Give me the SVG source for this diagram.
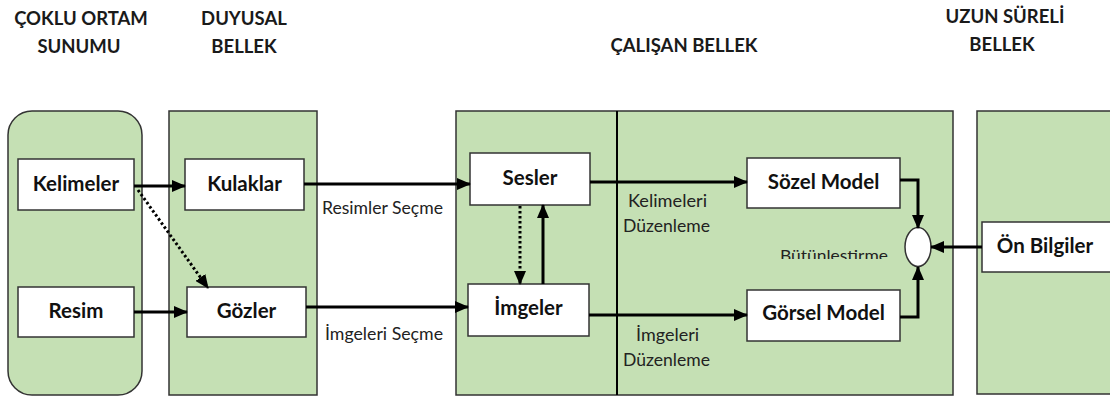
<svg xmlns="http://www.w3.org/2000/svg" width="1110" height="403" viewBox="0 0 1110 403">
<defs>
<style>
.title{font-family:Lato,"Liberation Sans",sans-serif;font-weight:bold;font-size:18.5px;fill:#1a1a1a;text-anchor:middle}
.panel{fill:#c5e0b4;stroke:#333;stroke-width:1.5}
.box{fill:#fff;stroke:#333;stroke-width:1.5}
.bl{font-family:Lato,"Liberation Sans",sans-serif;font-weight:bold;font-size:20.5px;fill:#111;text-anchor:middle}
.lbl{font-family:Lato,"Liberation Sans",sans-serif;font-size:16.5px;fill:#222}
.c{fill:none;stroke:#000;stroke-width:3;marker-end:url(#ah)}
.d{stroke-dasharray:2.5 2.5}
</style>
<marker id="ah" markerUnits="userSpaceOnUse" markerWidth="14" markerHeight="12" refX="13" refY="6" orient="auto">
<path d="M0,0 L14,6 L0,12 z" fill="#000"/>
</marker>
<clipPath id="cut"><rect x="760" y="230" width="140" height="29"/></clipPath>
</defs>
<g id="titles">
<text class="title" x="81" y="25">ÇOKLU ORTAM</text>
<text class="title" x="79" y="53">SUNUMU</text>
<text class="title" x="244" y="25">DUYUSAL</text>
<text class="title" x="244" y="53">BELLEK</text>
<text class="title" x="684" y="52">ÇALIŞAN BELLEK</text>
<text class="title" x="1005" y="23">UZUN SÜRELİ</text>
<text class="title" x="1002" y="51">BELLEK</text>
</g>
<g id="panel-coklu"><rect class="panel" x="8" y="111" width="134" height="284" rx="24"/></g>
<g id="panel-duyusal"><rect class="panel" x="169" y="111" width="148" height="284"/></g>
<g id="panel-calisan"><rect class="panel" x="456" y="111" width="497" height="284"/><line x1="617" y1="111" x2="617" y2="395" stroke="#000" stroke-width="2"/></g>
<g id="panel-uzun"><rect class="panel" x="977" y="111" width="140" height="283"/></g>
<g id="kelimeler"><rect class="box" x="18" y="159" width="116" height="51"/><text class="bl" x="76" y="191">Kelimeler</text></g>
<g id="resim"><rect class="box" x="18" y="287" width="116" height="50"/><text class="bl" x="76" y="318">Resim</text></g>
<g id="kulaklar"><rect class="box" x="185" y="159" width="119" height="51"/><text class="bl" x="244.5" y="191">Kulaklar</text></g>
<g id="gozler"><rect class="box" x="187" y="287" width="119" height="50"/><text class="bl" x="246.5" y="318">Gözler</text></g>
<g id="sesler"><rect class="box" x="470" y="153" width="120" height="52"/><text class="bl" x="530" y="185">Sesler</text></g>
<g id="imgeler"><rect class="box" x="468" y="284" width="121" height="52"/><text class="bl" x="528.5" y="315">İmgeler</text></g>
<g id="sozel"><rect class="box" x="747" y="158" width="153" height="50"/><text class="bl" x="823.5" y="189">Sözel Model</text></g>
<g id="gorsel"><rect class="box" x="747" y="290" width="153" height="51"/><text class="bl" x="823.5" y="320">Görsel Model</text></g>
<g id="butunlestirme"><ellipse cx="918" cy="247" rx="13" ry="19.5" fill="#fff" stroke="#333" stroke-width="1.5"/></g>
<g id="onbilgiler"><rect class="box" x="982" y="222" width="135" height="50"/><text class="bl" x="1045" y="253">Ön Bilgiler</text></g>
<g id="connectors">
<path class="c" d="M134,186 H185"/>
<path class="c" d="M134,312 H187"/>
<path class="c d" d="M138,190 L208,288"/>
<path class="c" d="M304,184 H470"/>
<path class="c" d="M306,307 H468"/>
<path class="c d" d="M520,206 V284"/>
<path class="c" d="M543,284 V205"/>
<path class="c" d="M590,182 H747"/>
<path class="c" d="M589,315 H747"/>
<path class="c" d="M900,180 H918 V228"/>
<path class="c" d="M900,317 H918 V267"/>
<path class="c" d="M982,247 H931"/>
</g>
<g id="labels">
<text class="lbl" x="322" y="214" textLength="121" lengthAdjust="spacingAndGlyphs">Resimler Seçme</text>
<text class="lbl" x="325" y="340" textLength="118" lengthAdjust="spacingAndGlyphs">İmgeleri Seçme</text>
<text class="lbl" x="628" y="207" textLength="79" lengthAdjust="spacingAndGlyphs">Kelimeleri</text>
<text class="lbl" x="623" y="232" textLength="87" lengthAdjust="spacingAndGlyphs">Düzenleme</text>
<text class="lbl" x="636" y="341" textLength="63" lengthAdjust="spacingAndGlyphs">İmgeleri</text>
<text class="lbl" x="623" y="366" textLength="87" lengthAdjust="spacingAndGlyphs">Düzenleme</text>
<text class="lbl" x="780" y="261" textLength="108" lengthAdjust="spacingAndGlyphs" clip-path="url(#cut)" style="font-size:16px">Bütünleştirme</text>
</g>
</svg>
